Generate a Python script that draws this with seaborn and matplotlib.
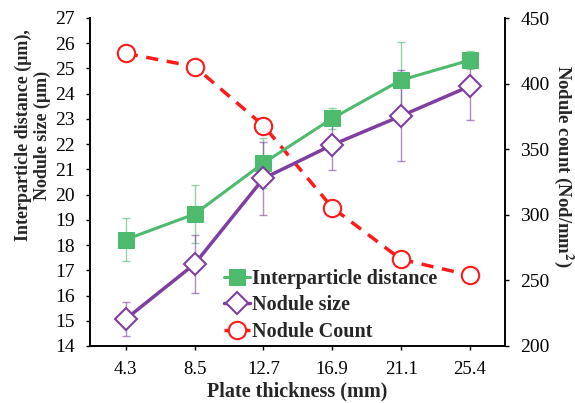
import numpy as np
import pandas as pd
import matplotlib
matplotlib.use("Agg")
import matplotlib.pyplot as plt
import seaborn as sns

categories = ["4.3", "8.5", "12.7", "16.9", "21.1", "25.4"]
interparticle = [18.22, 19.23, 21.25, 23.02, 24.54, 25.33]
interparticle_err = [0.85, 1.15, 1.0, 0.4, 1.5, 0.35]
nodule_size = [15.07, 17.25, 20.64, 21.97, 23.12, 24.30]
nodule_size_err = [0.68, 1.15, 1.45, 1.0, 1.8, 1.33]
nodule_count = [423, 413, 368, 305.5, 266, 254]

sns.set_style("ticks")
plt.rcParams['font.family'] = ['Liberation Serif', 'DejaVu Serif']
plt.rcParams['mathtext.fontset'] = 'stix'

green = "#4DBA6E"
purple = "#7F3FA0"
red = "#FF1A1A"

pos = np.arange(len(categories))
df = pd.DataFrame({"pos": pos, "ip": interparticle, "ns": nodule_size, "nc": nodule_count})

fig = plt.figure(figsize=(5.75, 4.03), dpi=100)
ax = fig.add_axes([90/575, 1-346/403, 415/575, 328/403])
ax2 = ax.twinx()

ax.errorbar(pos, interparticle, yerr=interparticle_err, fmt='none', ecolor=green, alpha=0.6,
            elinewidth=1.0, capsize=3, capthick=1.0, zorder=2)
ax.errorbar(pos, nodule_size, yerr=nodule_size_err, fmt='none', ecolor=purple, alpha=0.6,
            elinewidth=1.0, capsize=3, capthick=1.0, zorder=2)

sns.lineplot(data=df, x="pos", y="ip", ax=ax, color=green, linewidth=2.2, marker='s',
             markersize=12, markeredgecolor=green, markerfacecolor=green,
             label="Interparticle distance", zorder=3, legend=False)
sns.lineplot(data=df, x="pos", y="ns", ax=ax, color=purple, linewidth=2.5, marker='D',
             markersize=11, markeredgecolor=purple, markerfacecolor='white', markeredgewidth=1.5,
             label="Nodule size", zorder=4, legend=False)
sns.lineplot(data=df, x="pos", y="nc", ax=ax2, color=red, linewidth=2.5, marker='o',
             markersize=12.5, markeredgecolor=red, markerfacecolor='white', markeredgewidth=1.5,
             label="Nodule Count", zorder=3, legend=False)
ax2.lines[-1].set_dashes([3.5, 2.5])

ax.set_xlim(-0.52, 5.51)
ax.set_ylim(14, 27)
ax.set_yticks(range(14, 28))
ax2.set_ylim(200, 450)
ax2.set_yticks(range(200, 451, 50))
ax.set_xticks(pos)
ax.set_xticklabels(categories)

for a in (ax, ax2):
    a.tick_params(labelsize=14, length=3, width=1, direction='out', colors='black', pad=8)
    for s in a.spines.values():
        s.set_linewidth(1.2)
        s.set_color('black')
ax.spines['top'].set_visible(False)
ax2.spines['top'].set_visible(False)
ax.tick_params(axis='x', labelsize=13.5, pad=8)

ax.set_xlabel("Plate thickness (mm)", fontsize=14.5, fontweight='bold', labelpad=2)
ax.set_ylabel("Interparticle distance (μm),\nNodule size (μm)", fontsize=13,
              fontweight='bold', linespacing=1.15)
ax.yaxis.set_label_coords((51 - 90) / 415, (346 - 135) / 328)
ax2.set_ylabel("Nodule count (Nod/mm$^\\mathbf{2}$)", fontsize=13.5, fontweight='bold',
               rotation=270, va='bottom')
ax2.yaxis.set_label_coords((552 - 90) / 415, (346 - 166) / 328)

h1, l1 = ax.get_legend_handles_labels()
h2, l2 = ax2.get_legend_handles_labels()
leg = ax.legend(h1 + h2, l1 + l2, loc='lower left', bbox_to_anchor=(0.29, -0.03),
                frameon=False, prop={'size': 14.5, 'weight': 'bold'},
                handlelength=1.25, handletextpad=0.1, labelspacing=0.32, borderpad=0.2)
ax.set_zorder(ax2.get_zorder() + 1)
ax.patch.set_visible(False)

fig.savefig("out.png", dpi=100)
